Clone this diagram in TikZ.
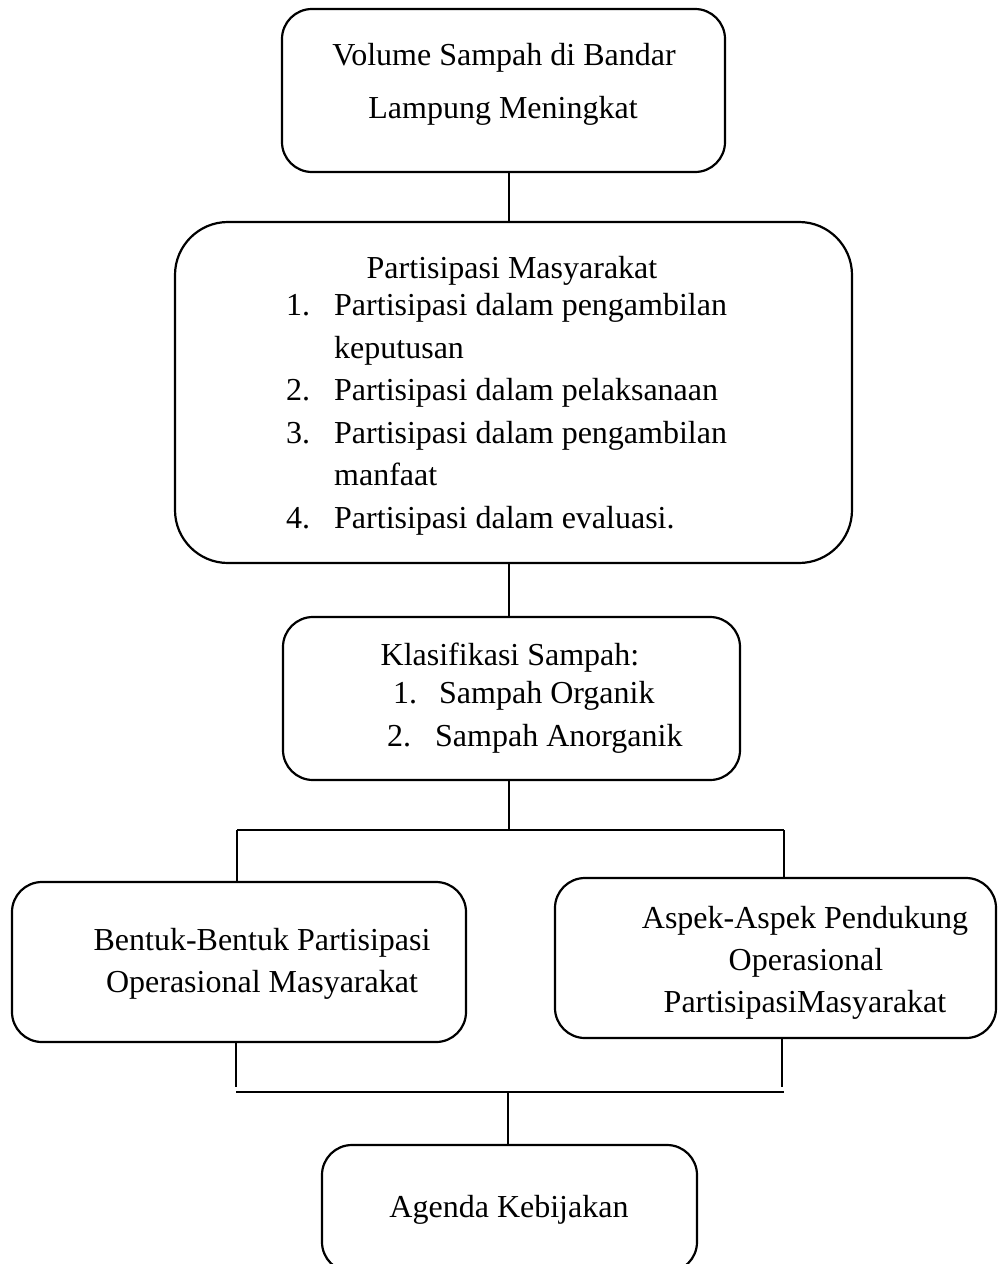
\documentclass[tikz,border=0pt]{standalone}
\usepackage{fontspec}
\setmainfont{Liberation Serif}
\begin{document}
\begin{tikzpicture}[x=1pt,y=-1pt,
  box/.style={draw, line width=2.2pt, rounded corners=#1, inner sep=0pt, rectangle},
  box/.default=28pt,
  txt/.style={inner sep=0pt, font=\fontsize{32}{38}\selectfont},
  conn/.style={line width=1.6pt}]
\useasboundingbox (0,0) rectangle (997,1264);
\begin{scope}
\clip (0,0) rectangle (997,1264);
% boxes
\node[box=30pt, minimum width=443pt, minimum height=163pt] (b1) at (503.5,90.5) {};
\node[box=53pt, minimum width=677pt, minimum height=341pt] (b2) at (513.5,392.5) {};
\node[box=30pt, minimum width=457pt, minimum height=163pt] (b3) at (511.5,698.5) {};
\node[box=30pt, minimum width=454pt, minimum height=160pt] (b4) at (239,962) {};
\node[box=30pt, minimum width=441pt, minimum height=160pt] (b5) at (775.5,958) {};
\node[box=30pt, minimum width=375pt, minimum height=127pt] (b6) at (509.5,1208.5) {};
\end{scope}
% texts
\node[txt, anchor=base] (t1a) at (504,65) {Volume Sampah di Bandar};
\node[txt, anchor=base] (t1b) at (503,118) {Lampung Meningkat};
\node[txt, anchor=base] (t2) at (512,278) {Partisipasi Masyarakat};
\node[txt, anchor=base west] (n1) at (286,315) {1.};
\node[txt, anchor=base west] (i1) at (334,315) {Partisipasi dalam pengambilan};
\node[txt, anchor=base west] (i1b) at (334,358) {keputusan};
\node[txt, anchor=base west] (n2) at (286,400) {2.};
\node[txt, anchor=base west] (i2) at (334,400) {Partisipasi dalam pelaksanaan};
\node[txt, anchor=base west] (n3) at (286,443) {3.};
\node[txt, anchor=base west] (i3) at (334,443) {Partisipasi dalam pengambilan};
\node[txt, anchor=base west] (i3b) at (334,485) {manfaat};
\node[txt, anchor=base west] (n4) at (286,528) {4.};
\node[txt, anchor=base west] (i4) at (334,528) {Partisipasi dalam evaluasi.};
\node[txt, anchor=base] (t3) at (510,665) {Klasifikasi Sampah:};
\node[txt, anchor=base west] (k1n) at (393,703) {1.};
\node[txt, anchor=base west] (k1) at (439,703) {Sampah Organik};
\node[txt, anchor=base west] (k2n) at (387,746) {2.};
\node[txt, anchor=base west] (k2) at (435,746) {Sampah Anorganik};
\node[txt, anchor=base] (t4a) at (262,950) {Bentuk-Bentuk Partisipasi};
\node[txt, anchor=base] (t4b) at (262,992) {Operasional Masyarakat};
\node[txt, anchor=base] (t5a) at (805,928) {Aspek-Aspek Pendukung};
\node[txt, anchor=base] (t5b) at (806,970) {Operasional};
\node[txt, anchor=base] (t5c) at (805,1012) {PartisipasiMasyarakat};
\node[txt, anchor=base] (t6) at (509,1217) {Agenda Kebijakan};
% connectors
\coordinate (cx) at (509,0);
\coordinate (busT) at (509,830);
\coordinate (busTL) at (237,830);
\coordinate (busTR) at (784,830);
\coordinate (eL) at (236,1087);
\coordinate (eR) at (782,1087);
\coordinate (bbL) at (236,1092);
\coordinate (bbR) at (784,1092);
\coordinate (bbM) at (508,1092);
\draw[conn] (b1.south -| cx) -- (b2.north -| cx);
\draw[conn] (b2.south -| cx) -- (b3.north -| cx);
\draw[conn] (b3.south -| cx) -- (busT);
\draw[conn] (busTL) -- (busTR);
\draw[conn] (busTL) -- (b4.north -| busTL);
\draw[conn] (busTR) -- (b5.north -| busTR);
\draw[conn] (b4.south -| eL) -- (eL);
\draw[conn] (b5.south -| eR) -- (eR);
\draw[conn] (bbL) -- (bbR);
\draw[conn] (bbM) -- (b6.north -| bbM);
\end{tikzpicture}
\end{document}
